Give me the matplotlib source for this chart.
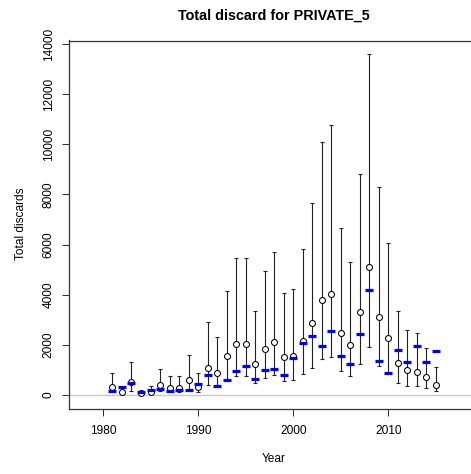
import numpy as np
import matplotlib
matplotlib.use("Agg")
import matplotlib.pyplot as plt

# values
years = np.arange(1981, 2016)
mean_discard = [319, 120, 500, 70, 133, 385, 260, 266, 598, 333,
                1085, 864, 1556, 2048, 2048, 1250, 1848, 2128, 1529, 1569,
                2168, 2859, 3790, 4030, 2487, 1981, 3298, 5107, 3112, 2261,
                1263, 984, 930, 718, 399]
low_discard = [140, 90, 166, 20, 66, 165, 100, 106, 200, 120,
               390, 319, 598, 758, 758, 465, 691, 798, 558, 585,
               818, 1064, 1423, 1503, 944, 745, 1237, 1915, 1170, 864,
               480, 359, 359, 279, 146]
high_discard = [870, 290, 1303, 150, 346, 1030, 738, 738, 1600, 870,
                2910, 2302, 4150, 5479, 5452, 3365, 4948, 5718, 4070, 4216,
                5805, 7647, 10108, 10786, 6650, 5293, 8805, 13606, 8285, 6052,
                3365, 2580, 2487, 1889, 1104]
blue_discard = [140, 300, 460, 110, 186, 253, 140, 200, 200, 452,
                810, 372, 598, 944, 1170, 638, 984, 1037, 811, 1463,
                2088, 2354, 1969, 2554, 1556, 1237, 2447, 4203, 1370, 864,
                1810, 1317, 1969, 1317, 1769]
xticks = [1980, 1990, 2000, 2010]
yticks = list(range(0, 14001, 2000))

plt.rcParams['font.family'] = ['Liberation Sans', 'DejaVu Sans']

W, H = 471, 474
fig = plt.figure(figsize=(W / 100, H / 100), dpi=100)
# right edge of the box falls outside the picture, as in the reference
left, right, top, bottom = 68.7, 479.7, 40.5, 408.6
ax = fig.add_axes([left / W, 1 - bottom / H, (right - left) / W, (bottom - top) / H])

ax.axhline(0, color='#c8c8c8', lw=1.0, zorder=1)

mean_arr = np.array(mean_discard)
yerr = [mean_arr - np.array(low_discard), np.array(high_discard) - mean_arr]
ax.errorbar(years, mean_arr, yerr=yerr, fmt='none', ecolor='#222222',
            elinewidth=0.8, capsize=1.6, capthick=0.8, zorder=2)
ax.plot(years, mean_arr, 'o', mfc='white', mec='black', mew=0.75, ms=4.3, zorder=3)
ax.plot(years, blue_discard, '_', color='#0000ff', ms=5.2, mew=2.3, zorder=4)

ax.set_xlim(1976.4, 2019.6)
ax.set_ylim(-544, 14144)
ax.set_xticks(xticks)
ax.set_yticks(yticks)
ax.set_yticklabels([str(v) for v in yticks], rotation=90, va='center')
ax.tick_params(axis='both', length=5, width=0.72, labelsize=8.6, color='#333333')
ax.tick_params(axis='x', pad=7)
ax.tick_params(axis='y', pad=5)
for side in ['left', 'top', 'bottom', 'right']:
    ax.spines[side].set_linewidth(0.9)
    ax.spines[side].set_color('#333333')

fig.text(274 / W, 1 - 459 / H, 'Year', ha='center', va='center', fontsize=8.6)
fig.text(21 / W, 1 - 224 / H, 'Total discards', ha='center', va='center',
         rotation=90, fontsize=8.6)
fig.text(274 / W, 1 - 16 / H, 'Total discard for PRIVATE_5', ha='center',
         va='center', fontsize=10.4, fontweight='bold')

fig.savefig('out.png', dpi=100)
plt.close(fig)
